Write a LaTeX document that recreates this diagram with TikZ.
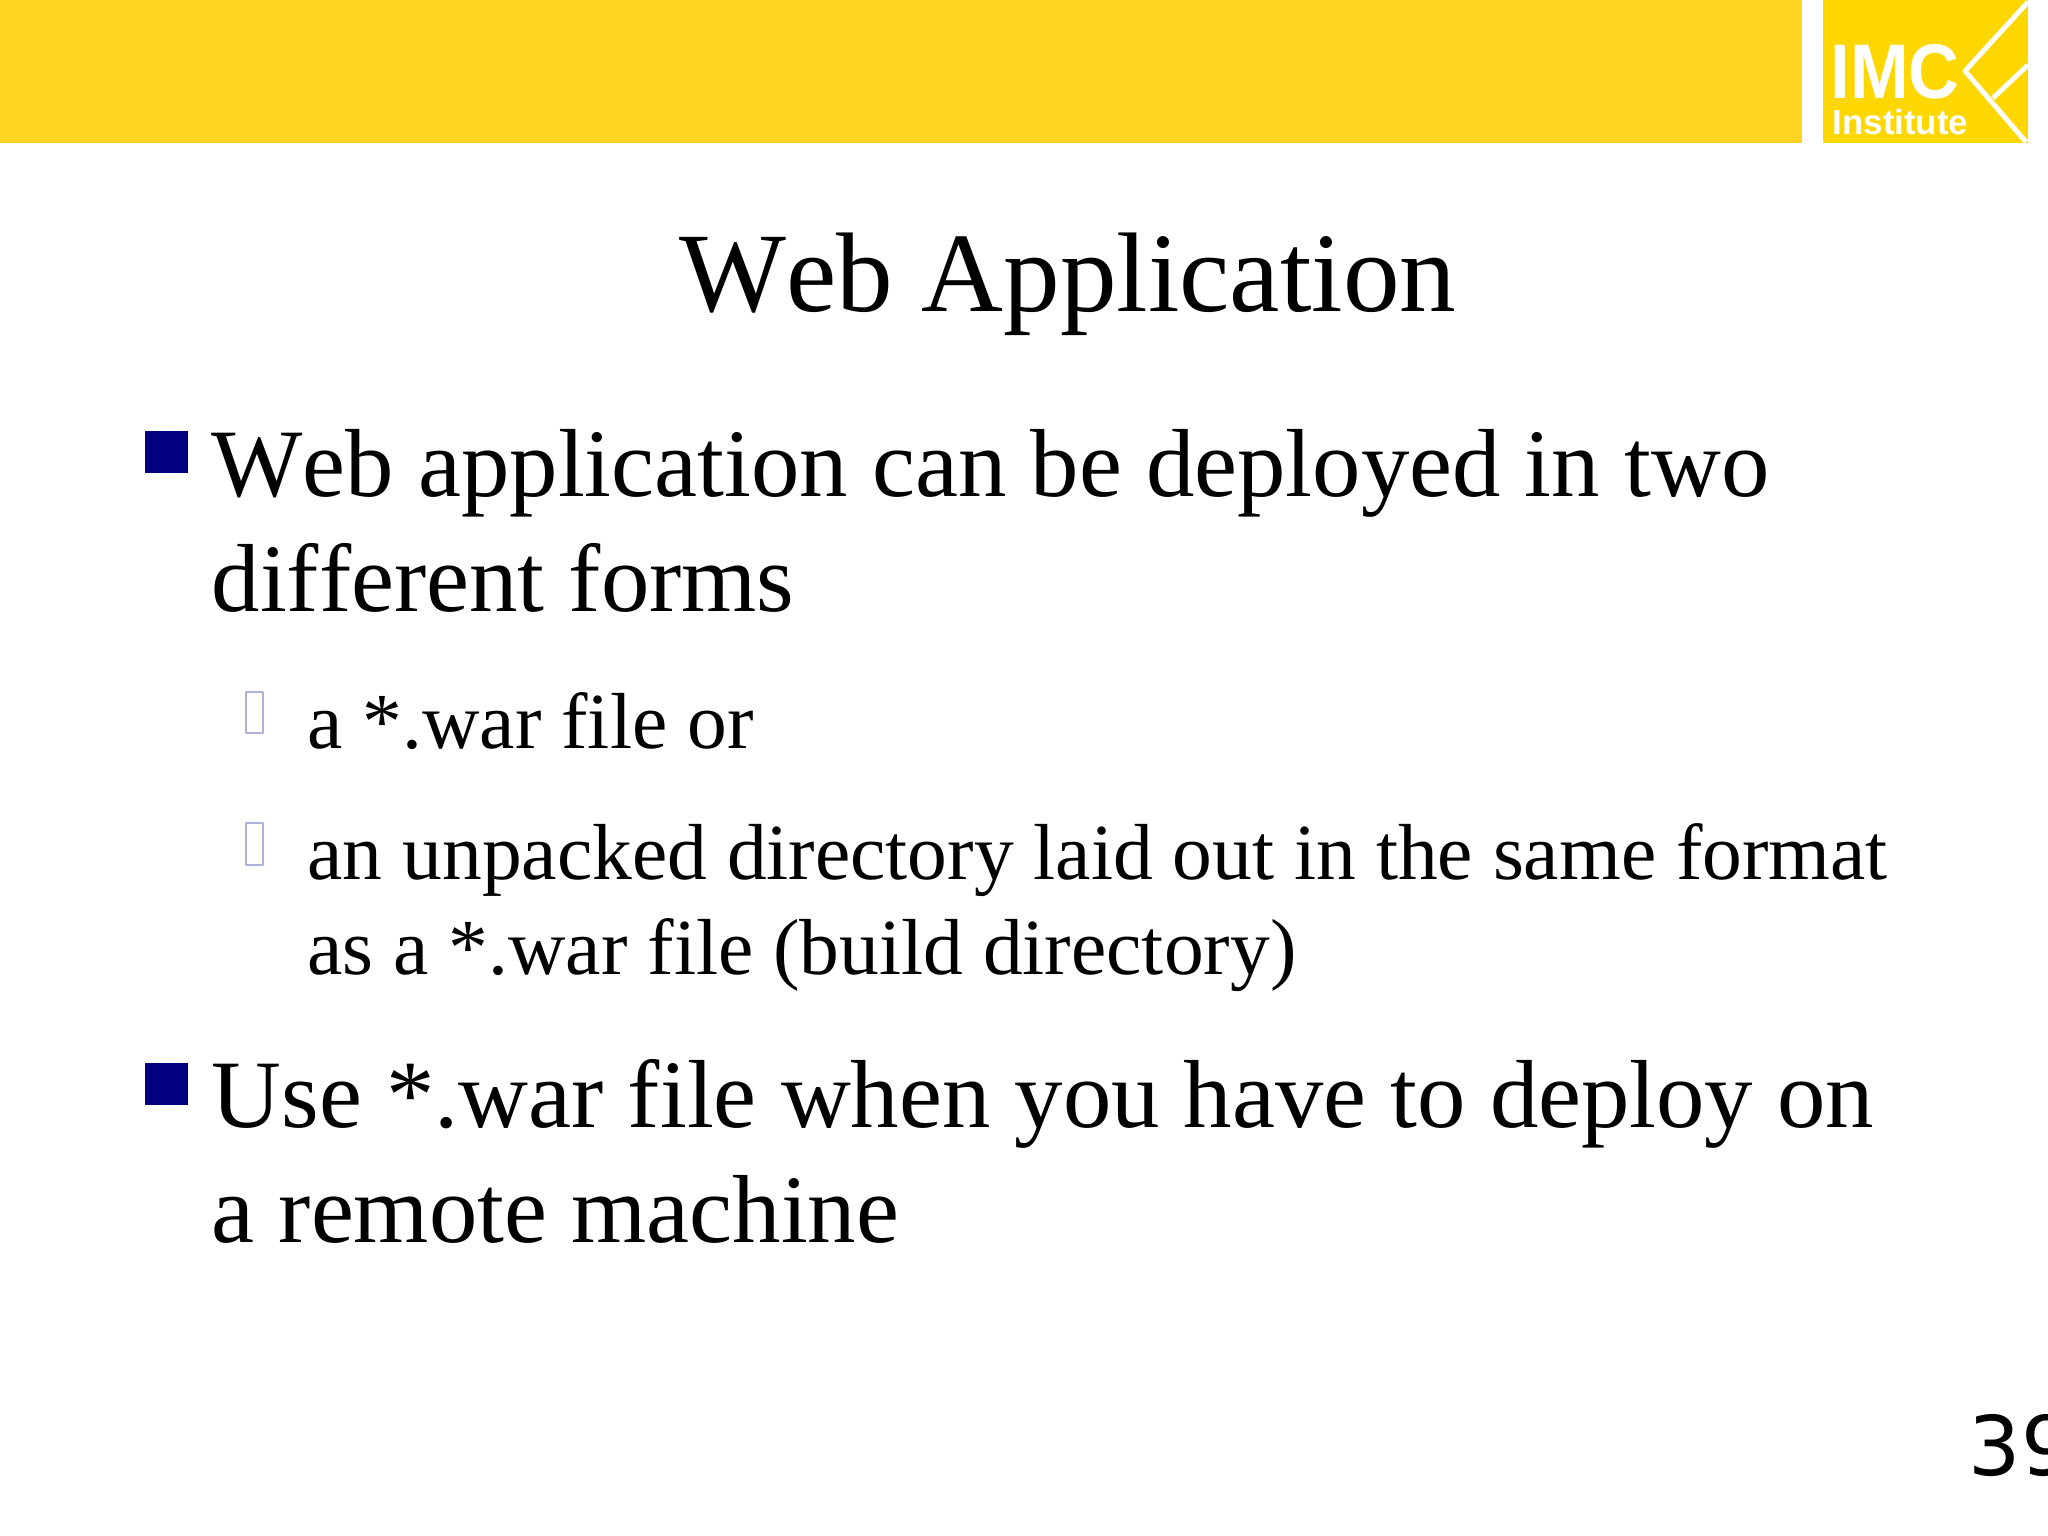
\documentclass[tikz,border=0pt]{standalone}
\usepackage{fontspec}
\setmainfont[Kerning=Off]{Liberation Serif}
\setsansfont{Liberation Sans}
\newfontfamily\numfont{DejaVu Sans}
\definecolor{bandyellow}{HTML}{FFD322}
\definecolor{logoyellow}{HTML}{FFD700}
\definecolor{bulletblue}{HTML}{000080}
\definecolor{bulletpale}{HTML}{B0B0DC}
\tikzset{
	titletext/.style={anchor=base,inner sep=0pt,font=\fontsize{32.2}{36}\selectfont},
	mainline/.style={anchor=base west,inner sep=0pt,font=\fontsize{27.5}{32}\selectfont},
	subline/.style={anchor=base west,inner sep=0pt,font=\fontsize{22.6}{26}\selectfont},
	mainbullet/.style={fill=bulletblue},
	subbullet/.style={draw=bulletpale,line width=0.4pt,fill=white},
	logotext/.style={anchor=base west,inner sep=0pt,text=white,font=\sffamily},
}
\begin{document}
\begin{tikzpicture}[x=0.01cm,y=-0.01cm,line join=round]
	\useasboundingbox (0,0) rectangle (2048,1536);
	\clip (0,0) rectangle (2048,1536);
	% band and logo
	\fill[bandyellow] (0,0) rectangle (1802,143);
	\fill[logoyellow] (1823,0) rectangle (2028,143);
	\node[logotext,xscale=0.91,font=\sffamily\bfseries\fontsize{22}{24}\selectfont] (imc) at (1830,98) {IMC};
	\node[logotext,font=\sffamily\bfseries\fontsize{9.9}{12}\selectfont] (inst) at (1832,134) {Institute};
	\draw[white,line width=1.4pt] (2028,2)--(1965,71)--(2026,142);
	\draw[white,line width=1.4pt] (2028,65)--(1993,98);
	% title
	\node[titletext] (title) at (1068,311) {Web Application};
	% bullets
	\fill[mainbullet] (145,431) rectangle (188,473);
	\fill[mainbullet] (145,1063) rectangle (188,1105);
	\draw[subbullet] (246,692) rectangle (263,733);
	\draw[subbullet] (246,823) rectangle (263,865);
	% text lines
	\node[mainline] (webA) at (211,496) {Web application can be deployed in two};
	\node[mainline] (webB) at (211,611) {different forms};
	\node[subline] (warA) at (307,748) {a *.war file or};
	\node[subline] (dirA) at (307,879) {an unpacked directory laid out in the same format};
	\node[subline] (dirB) at (307,974) {as a *.war file (build directory)};
	\node[mainline] (useA) at (211,1127) {Use *.war file when you have to deploy on};
	\node[mainline] (useB) at (211,1242) {a remote machine};
	% page number
	\node[anchor=base west,inner sep=0pt,font=\numfont\fontsize{23.4}{26}\selectfont] (page) at (1968,1475) {39};
\end{tikzpicture}
\end{document}
